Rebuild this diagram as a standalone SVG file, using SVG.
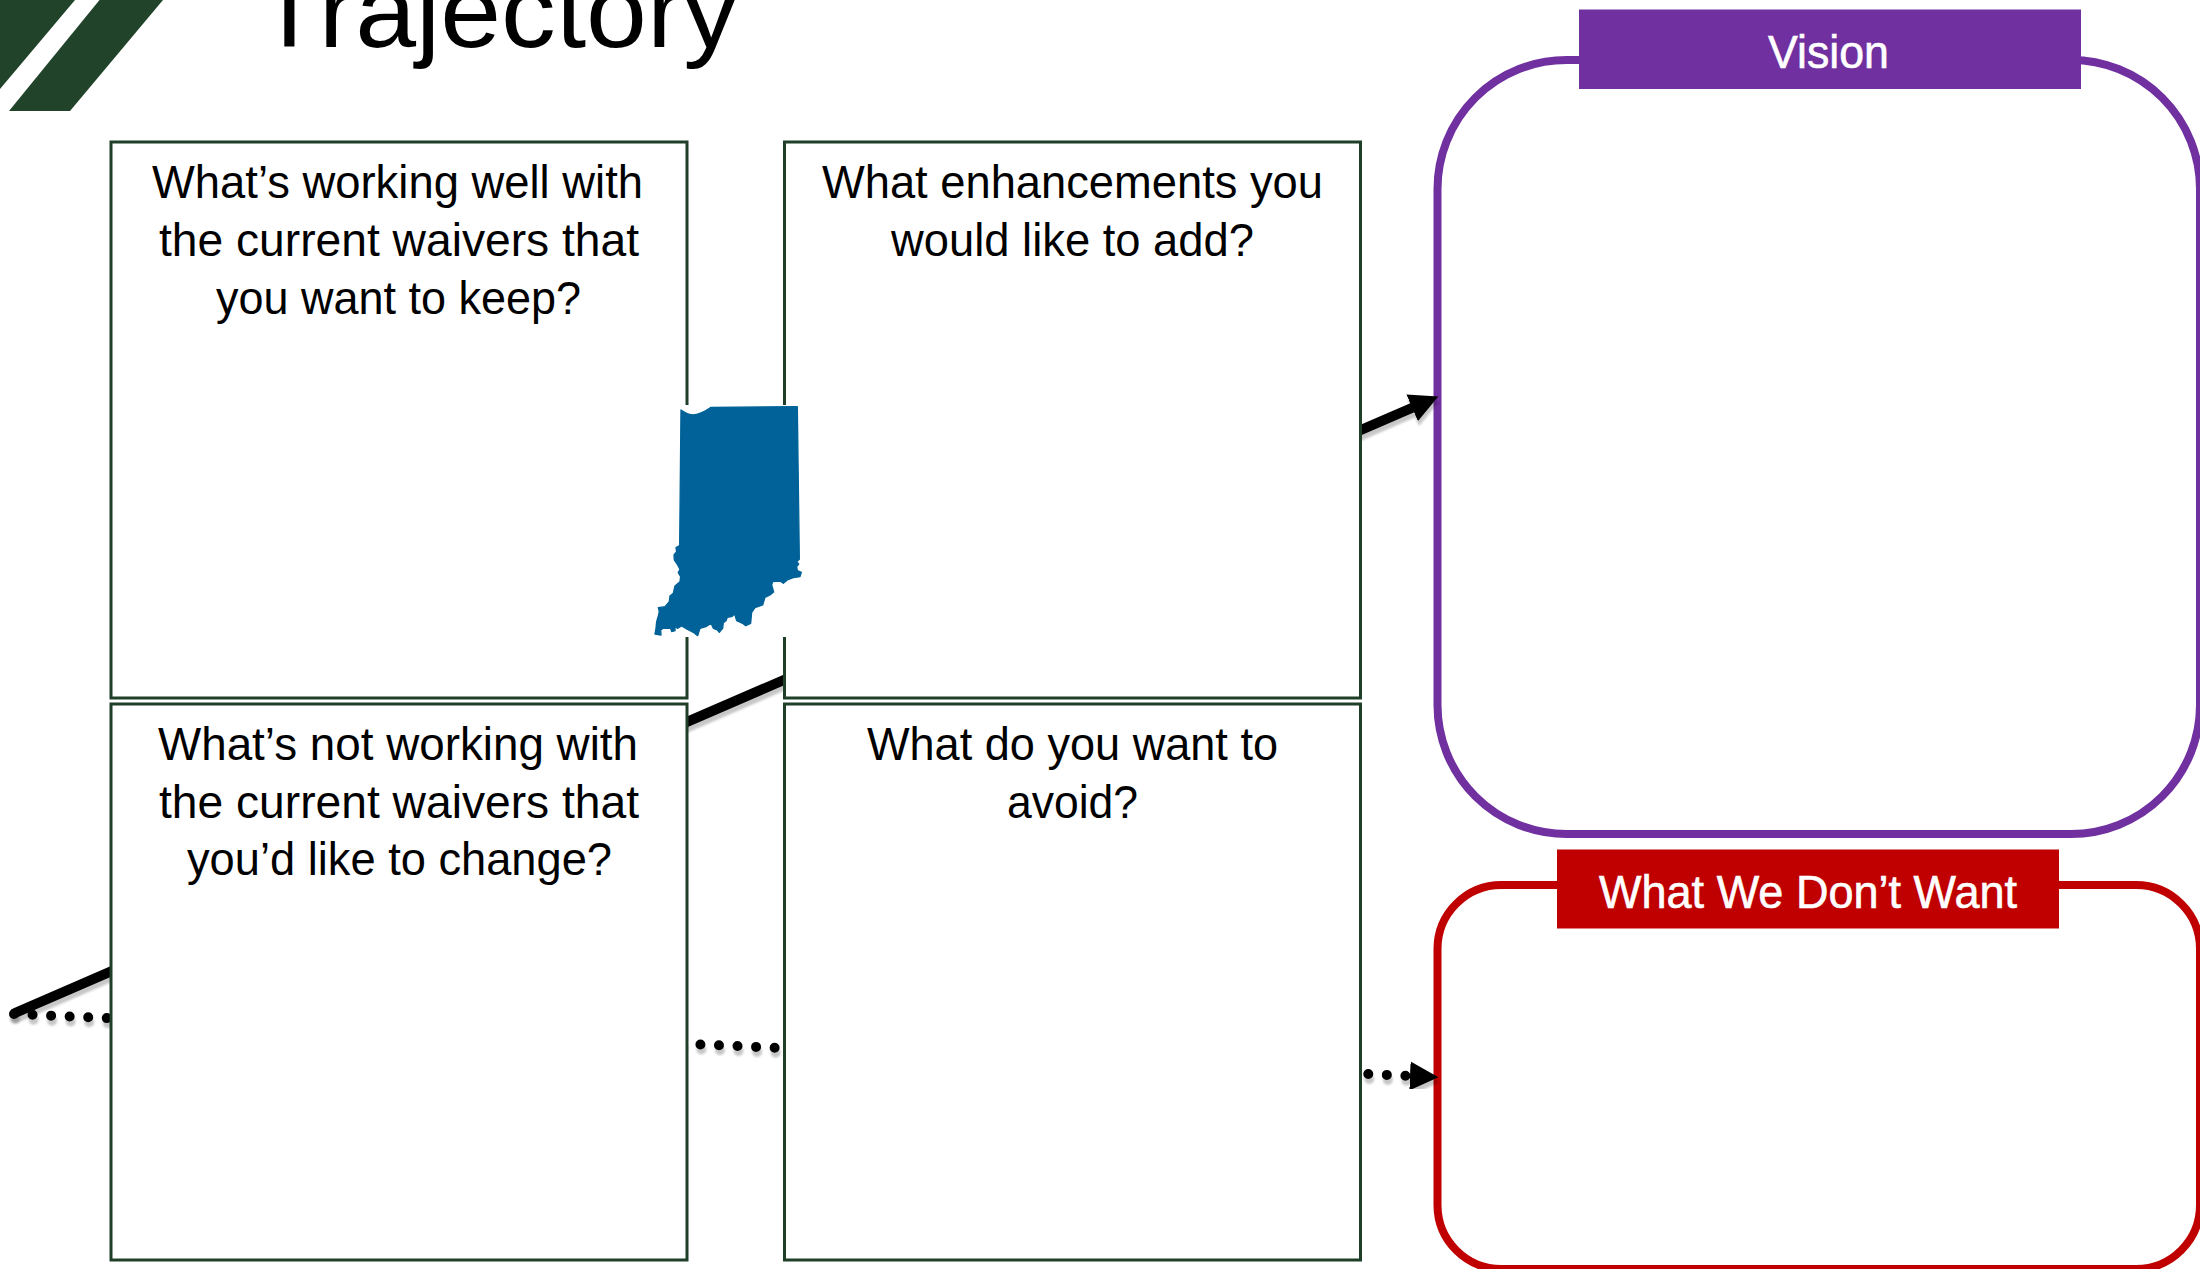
<svg xmlns="http://www.w3.org/2000/svg" width="2200" height="1269" viewBox="0 0 2200 1269">
<style>
text{font-family:"Liberation Sans",Arial,sans-serif}
.q{font-size:46px;fill:#000}
.box{fill:#fff;stroke:#1f3f29;stroke-width:3}
.lab{font-size:47px;fill:#fff;stroke:#fff;stroke-width:0.6}
.out{fill:#fff;stroke-width:8}
.con{fill:none;stroke:#000;stroke-width:10;filter:url(#sh)}
</style>
<defs>
<filter id="sh" x="-5%" y="-20%" width="110%" height="140%"><feDropShadow dx="1" dy="5" stdDeviation="1" flood-color="#000" flood-opacity="0.22"/></filter>
<marker id="ah" markerUnits="strokeWidth" markerWidth="2.9" markerHeight="3" viewBox="0 0 2.9 3" refX="0.2" refY="1.5" orient="auto"><path d="M0,0.05 L2.85,1.5 L0,2.95 Z" fill="#000"/></marker>
</defs>
<rect width="2200" height="1269" fill="#fff"/>
<g id="brand">
<polygon points="0,0 75,0 0,89" fill="#20432a"/>
<polygon points="99.5,0 163,0 70,111 9,111" fill="#20432a"/>
</g>
<g id="title"><text x="256" y="47" font-size="104" textLength="482" lengthAdjust="spacingAndGlyphs" fill="#000">Trajectory</text></g>
<g id="vision">
<rect class="out" x="1437.5" y="60" width="762.5" height="774" rx="129" stroke="#7030a0"/>
<rect x="1579" y="9.5" width="502" height="79.5" fill="#7030a0"/>
<text class="lab" x="1768" y="68" textLength="121" lengthAdjust="spacingAndGlyphs">Vision</text>
</g>
<g id="dont-want">
<rect class="out" x="1437.5" y="885" width="762.5" height="384" rx="64" stroke="#c00000"/>
<rect x="1557" y="849.5" width="502" height="79" fill="#c00000"/>
<text class="lab" x="1599" y="907.5" textLength="418" lengthAdjust="spacingAndGlyphs">What We Don’t Want</text>
</g>
<g id="connectors">
<line class="con" x1="14" y1="1014" x2="1412" y2="1076" stroke-linecap="round" stroke-dasharray="0 18.57" marker-end="url(#ah)"/>
<line class="con" x1="15" y1="1013" x2="1414" y2="407" stroke-linecap="round" marker-end="url(#ah)"/>
</g>
<g id="box-keep">
<rect class="box" x="111" y="142" width="576" height="556"/>
<text class="q" x="152" y="198" textLength="491" lengthAdjust="spacingAndGlyphs">What’s working well with</text>
<text class="q" x="159" y="256" textLength="480" lengthAdjust="spacingAndGlyphs">the current waivers that</text>
<text class="q" x="216" y="314" textLength="365" lengthAdjust="spacingAndGlyphs">you want to keep?</text>
</g>
<g id="box-add">
<rect class="box" x="784.5" y="142" width="576" height="556"/>
<text class="q" x="822" y="198" textLength="501" lengthAdjust="spacingAndGlyphs">What enhancements you</text>
<text class="q" x="891" y="256" textLength="363" lengthAdjust="spacingAndGlyphs">would like to add?</text>
</g>
<g id="box-change">
<rect class="box" x="111" y="704" width="576" height="556"/>
<text class="q" x="158" y="760" textLength="480" lengthAdjust="spacingAndGlyphs">What’s not working with</text>
<text class="q" x="159" y="818" textLength="480" lengthAdjust="spacingAndGlyphs">the current waivers that</text>
<text class="q" x="187" y="875" textLength="425" lengthAdjust="spacingAndGlyphs">you’d like to change?</text>
</g>
<g id="box-avoid">
<rect class="box" x="784.5" y="704" width="576" height="556"/>
<text class="q" x="867" y="760" textLength="411" lengthAdjust="spacingAndGlyphs">What do you want to</text>
<text class="q" x="1007" y="818" textLength="131" lengthAdjust="spacingAndGlyphs">avoid?</text>
</g>
<g id="indiana">
<rect x="650" y="405" width="150" height="232" fill="#fff"/>
<path transform="translate(630 380) scale(0.3333)" fill="#006298" stroke="#006298" stroke-width="4" stroke-linejoin="round" d="M153,90 C165,98 175,105 190,105 C205,103 225,95 243,82 L502,80 L508,538 L500,545 L506,552 L500,560 L502,572 L514,577 L510,590 L490,593 L472,600 L460,610 L450,603 L428,605 L425,615 L431,636 L420,645 L405,652 L398,675 L375,683 L365,697 L362,730 L347,737 L338,730 L320,722 L314,702 L305,710 L292,712 L288,722 L280,728 L278,745 L268,757 L262,750 L250,745 L243,730 L228,740 L210,745 L203,767 L190,757 L170,747 L155,738 L142,745 L135,738 L135,752 L125,755 L122,745 L100,745 L92,750 L93,765 L75,762 L78,745 L80,725 L85,708 L88,695 L85,683 L105,680 L118,665 L120,648 L130,640 L135,618 L150,605 L152,590 L145,578 L150,568 L143,555 L133,540 L132,525 L140,515 L138,503 L149,497 Z"/>
</g>
</svg>
